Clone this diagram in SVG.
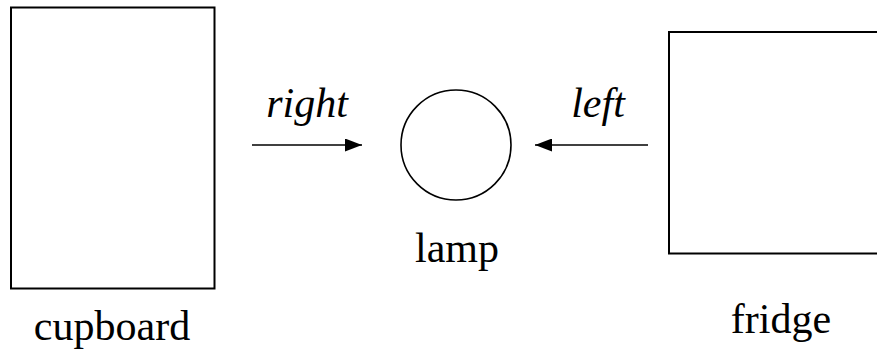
<svg xmlns="http://www.w3.org/2000/svg" width="877" height="355" viewBox="0 0 877 355">
<style>
.box{fill:#fff;stroke:#000;stroke-width:2}
.lbl{font-family:"Liberation Serif","Times New Roman",serif;font-size:42px;fill:#000;text-anchor:middle}
.it{font-style:italic}
.edge{stroke:#000;stroke-width:1.6;fill:none;marker-end:url(#ah)}
</style>
<defs>
<marker id="ah" markerWidth="17" markerHeight="13" refX="17" refY="6.5" orient="auto" markerUnits="userSpaceOnUse">
<path d="M0,0 L17,6.5 L0,13 Z" fill="#000"/>
</marker>
</defs>
<rect width="877" height="355" fill="#fff"/>
<g id="cupboard">
<rect class="box" x="11" y="7.5" width="203.5" height="281"/>
<text class="lbl" x="112" y="340">cupboard</text>
</g>
<g id="lamp">
<circle cx="456" cy="145" r="55" fill="#fff" stroke="#000" stroke-width="1.6"/>
<text class="lbl" x="457" y="262">lamp</text>
</g>
<g id="fridge">
<rect class="box" x="669" y="32" width="220" height="221.5"/>
<text class="lbl" x="781" y="333">fridge</text>
</g>
<g id="connectors">
<line class="edge" x1="252" y1="145" x2="362" y2="145"/>
<text class="lbl it" x="307" y="117">right</text>
<line class="edge" x1="648" y1="145" x2="535" y2="145"/>
<text class="lbl it" x="598" y="117">left</text>
</g>
</svg>
